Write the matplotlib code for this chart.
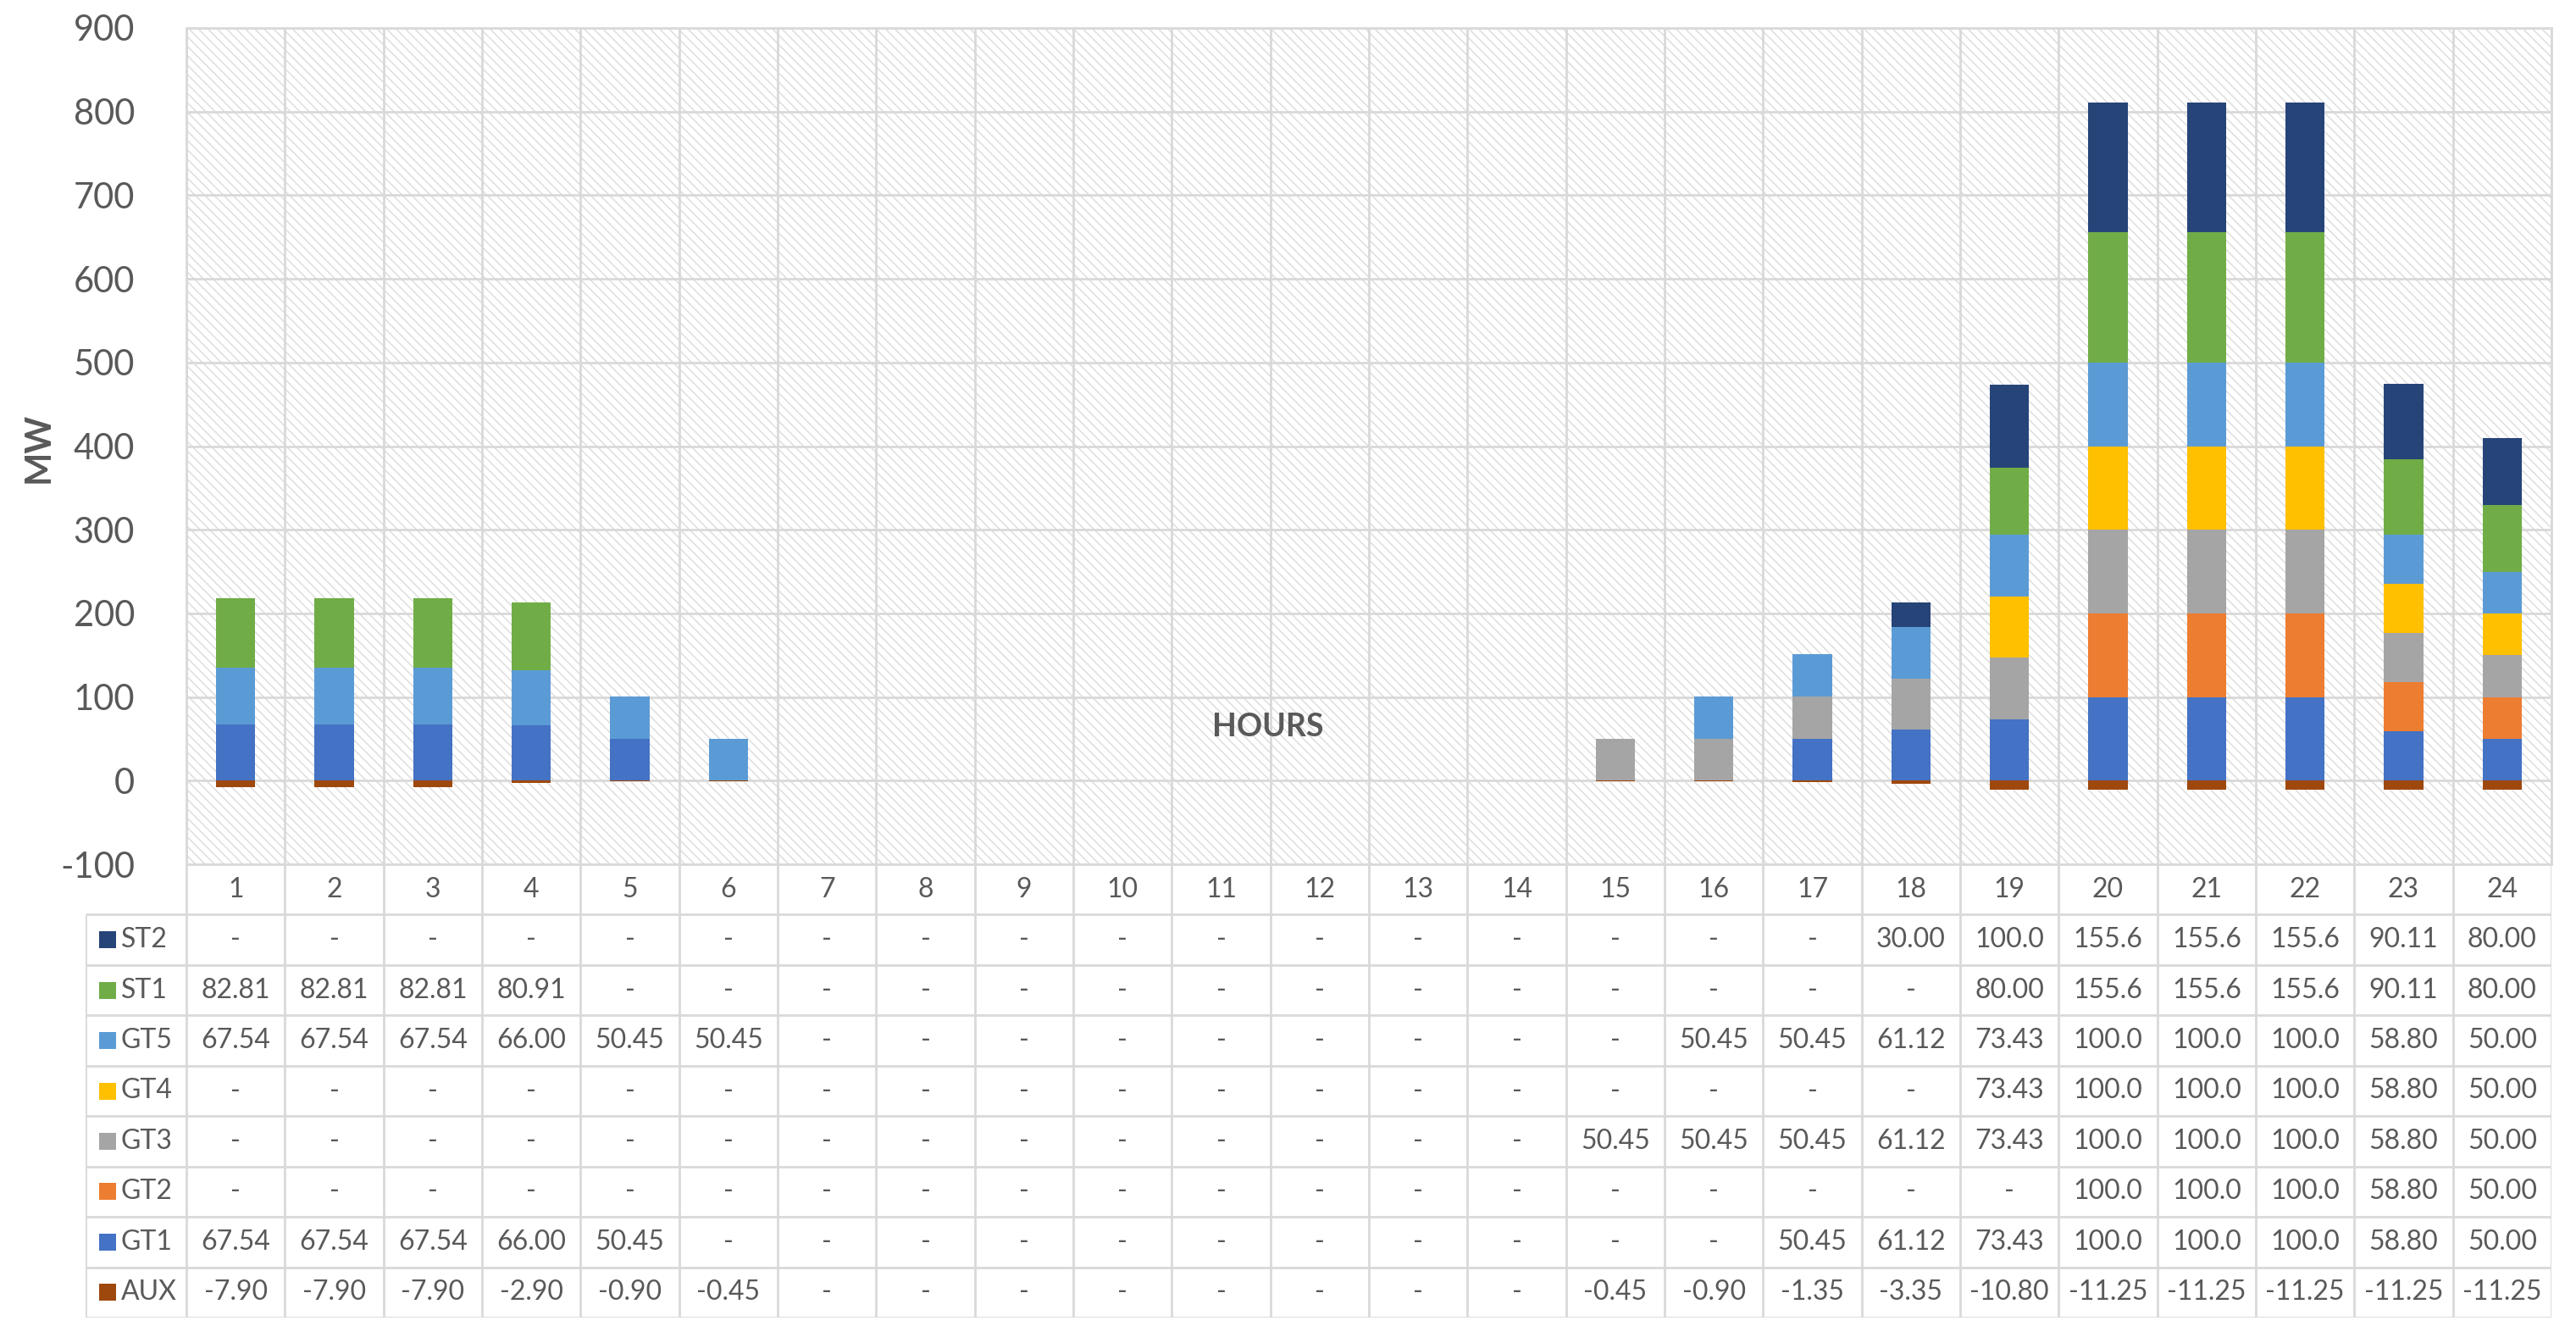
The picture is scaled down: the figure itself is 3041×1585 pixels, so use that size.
import numpy as np
import matplotlib
matplotlib.use('Agg')
import matplotlib.pyplot as plt
from matplotlib.patches import Rectangle

plt.rcParams['font.family'] = ['Lato', 'DejaVu Sans']
plt.rcParams['axes.unicode_minus'] = False
plt.rcParams['hatch.linewidth'] = 1.1

# data (None = '-')
hours = list(range(1, 25))
series = ['GT1', 'GT2', 'GT3', 'GT4', 'GT5', 'ST1', 'ST2']
ST2 = [None]*17 + [30.00, 100.0, 155.6, 155.6, 155.6, 90.11, 80.00]
ST1 = [82.81, 82.81, 82.81, 80.91] + [None]*14 + [80.00, 155.6, 155.6, 155.6, 90.11, 80.00]
GT5 = [67.54, 67.54, 67.54, 66.00, 50.45, 50.45] + [None]*9 + \
      [50.45, 50.45, 61.12, 73.43, 100.0, 100.0, 100.0, 58.80, 50.00]
GT4 = [None]*18 + [73.43, 100.0, 100.0, 100.0, 58.80, 50.00]
GT3 = [None]*14 + [50.45, 50.45, 50.45, 61.12, 73.43, 100.0, 100.0, 100.0, 58.80, 50.00]
GT2 = [None]*19 + [100.0, 100.0, 100.0, 58.80, 50.00]
GT1 = [67.54, 67.54, 67.54, 66.00, 50.45] + [None]*11 + \
      [50.45, 61.12, 73.43, 100.0, 100.0, 100.0, 58.80, 50.00]
AUX = [-7.90, -7.90, -7.90, -2.90, -0.90, -0.45] + [None]*8 + \
      [-0.45, -0.90, -1.35, -3.35, -10.80, -11.25, -11.25, -11.25, -11.25, -11.25]

colors = {'ST2': '#264478', 'ST1': '#70AD47', 'GT5': '#5B9BD5', 'GT4': '#FFC000',
          'GT3': '#A5A5A5', 'GT2': '#ED7D31', 'GT1': '#4472C4', 'AUX': '#9E480E'}
data = {'ST2': ST2, 'ST1': ST1, 'GT5': GT5, 'GT4': GT4,
        'GT3': GT3, 'GT2': GT2, 'GT1': GT1, 'AUX': AUX}
table_rows = ['ST2', 'ST1', 'GT5', 'GT4', 'GT3', 'GT2', 'GT1', 'AUX']

txt = '#595959'
grid = '#d9d9d9'

W, H = 3041, 1585
fig = plt.figure(figsize=(W/100, H/100), dpi=100)

# layout in pixels
pl, pr, pt, pb = 220, 3012, 33, 1020
tl, tb = 101, 1555

ax = fig.add_axes([pl/W, 1-pb/H, (pr-pl)/W, (pb-pt)/H])
x = np.arange(len(hours))
ax.set_xlim(-0.5, len(hours)-0.5)
ax.set_ylim(-100, 900)

# hatched background
ax.add_patch(Rectangle((0, 0), 1, 1, transform=ax.transAxes, facecolor='white',
                       edgecolor='#dedede', linewidth=0, hatch='\\\\\\', zorder=0.1))

bottom = np.zeros(len(hours))
for s in series:
    v = np.nan_to_num(np.array(data[s], dtype=float))
    ax.bar(x, v, 0.4, bottom=bottom, color=colors[s], linewidth=0, zorder=3)
    bottom += v
aux = np.nan_to_num(np.array(AUX, dtype=float))
ax.bar(x, aux, 0.4, color=colors['AUX'], linewidth=0, zorder=3)

ax.set_yticks(np.arange(-100, 901, 100))
ax.set_xticks([])
ax.set_xticks(np.arange(-0.5, len(hours)), minor=True)
ax.tick_params(axis='y', length=0, pad=44, labelsize=30, labelcolor=txt)
ax.tick_params(axis='x', which='both', length=0)
ax.grid(True, which='major', axis='y', color=grid, lw=2, zorder=1)
ax.grid(True, which='minor', axis='x', color=grid, lw=2, zorder=1)
for sp in ax.spines.values():
    sp.set_color(grid)
    sp.set_linewidth(2)
fig.text(46/W, 1-528/H, 'MW', fontsize=30, fontweight='bold', color=txt,
         rotation=90, ha='center', va='center')
fig.text(1497/W, 1-858/H, 'HOURS', fontsize=27, fontweight='bold', color=txt,
         ha='center', va='center')

# data table below the plot
tx = fig.add_axes([tl/W, 1-tb/H, (pr-tl)/W, (tb-pb)/H])
colw = (pr-pl)/len(hours)
x0 = -0.5 - (pl-tl)/colw
tx.set_xlim(x0, len(hours)-0.5)
tx.set_ylim(0, 9)
tx.axis('off')
nr = len(table_rows)
tx.vlines(np.arange(-0.5, len(hours)), 0, nr+1, color=grid, lw=2)
tx.vlines([x0], 0, nr, color=grid, lw=2)
tx.hlines(np.arange(0, nr+1), x0, len(hours)-0.5, color=grid, lw=2)

for i, h in enumerate(hours):
    tx.text(i, nr+0.5, str(h), ha='center', va='center', fontsize=23, color=txt)

def fmt(v):
    if v is None:
        return '-'
    if v >= 100:
        return f'{v:.1f}'
    return f'{v:.2f}'

key_x = x0 + (127-tl)/colw
lab_x = x0 + (143-tl)/colw
for r, name in enumerate(table_rows):
    yc = nr - r - 0.5
    tx.scatter([key_x], [yc], marker='s', s=200, color=colors[name], linewidths=0)
    tx.text(lab_x, yc, name, ha='left', va='center', fontsize=23, color=txt)
    for i, v in enumerate(data[name]):
        tx.text(i, yc, fmt(v), ha='center', va='center', fontsize=23, color=txt)

fig.savefig('out.png', dpi=100)
